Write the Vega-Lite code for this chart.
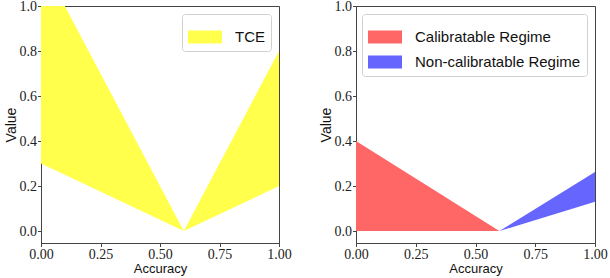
{
  "$schema": "https://vega.github.io/schema/vega-lite/v6.json",
  "background": "white",
  "padding": {"left": 3, "top": -2, "right": 0, "bottom": 0},
  "spacing": 26,
  "config": {
    "view": {"stroke": "#444", "strokeWidth": 1},
    "axis": {
      "labelFont": "Liberation Serif", "labelFontSize": 14, "labelColor": "#222", "labelFlush": false,
      "titleFont": "Liberation Sans", "titleFontSize": 14, "titleFontWeight": "normal", "titleColor": "#111",
      "tickColor": "#444", "domainColor": "#444", "tickSize": 3.5, "grid": false, "labelPadding": 1, "titlePadding": 1
    },
    "legend": {
      "orient": "top-right", "offset": 8, "padding": 6,
      "fillColor": "white", "strokeColor": "#d0d0d0", "cornerRadius": 3,
      "labelFont": "Liberation Sans", "labelFontSize": 15, "labelColor": "#111", "labelLimit": 0,
      "labelOffset": 13, "rowPadding": 0,
      "symbolType": "M-1,-0.38H1V0.38H-1Z", "symbolSize": 1156,
      "symbolStrokeWidth": 0, "symbolOpacity": 1, "title": null
    }
  },
  "resolve": {"scale": {"color": "independent"}},
  "hconcat": [
    {
      "width": 238, "height": 237,
      "data": {"values": [
        {"acc": 0.0, "low": 0.3, "high": 1.2, "series": "TCE"},
        {"acc": 0.6, "low": 0.0, "high": 0.0, "series": "TCE"},
        {"acc": 1.0, "low": 0.2, "high": 0.8, "series": "TCE"}
      ]},
      "mark": {"type": "area", "clip": true, "interpolate": "linear"},
      "encoding": {
        "x": {"field": "acc", "type": "quantitative", "scale": {"domain": [0, 1], "nice": false, "zero": false},
              "axis": {"values": [0, 0.25, 0.5, 0.75, 1], "format": ".2f", "title": "Accuracy", "titleFontSize": 13}},
        "y": {"field": "high", "type": "quantitative", "scale": {"domain": [-0.053, 1.0], "nice": false, "zero": false},
              "axis": {"values": [0, 0.2, 0.4, 0.6, 0.8, 1.0], "format": ".1f", "title": "Value"}},
        "y2": {"field": "low"},
        "color": {"field": "series", "type": "nominal", "scale": {"domain": ["TCE"], "range": ["#ffff4c"]}}
      }
    },
    {
      "width": 239, "height": 237,
      "data": {"values": [
        {"acc": 0.0, "low": 0.0, "high": 0.4, "series": "Calibratable Regime"},
        {"acc": 0.6, "low": 0.0, "high": 0.0, "series": "Calibratable Regime"},
        {"acc": 0.6, "low": 0.0, "high": 0.0, "series": "Non-calibratable Regime"},
        {"acc": 1.0, "low": 0.13, "high": 0.262, "series": "Non-calibratable Regime"}
      ]},
      "mark": {"type": "area", "clip": true, "interpolate": "linear"},
      "encoding": {
        "x": {"field": "acc", "type": "quantitative", "scale": {"domain": [0, 1], "nice": false, "zero": false},
              "axis": {"values": [0, 0.25, 0.5, 0.75, 1], "format": ".2f", "title": "Accuracy", "titleFontSize": 13}},
        "y": {"field": "high", "type": "quantitative", "scale": {"domain": [-0.053, 1.0], "nice": false, "zero": false},
              "axis": {"values": [0, 0.2, 0.4, 0.6, 0.8, 1.0], "format": ".1f", "title": "Value"}},
        "y2": {"field": "low"},
        "color": {"field": "series", "type": "nominal",
                  "scale": {"domain": ["Calibratable Regime", "Non-calibratable Regime"], "range": ["#ff6666", "#6666ff"]}}
      }
    }
  ]
}
